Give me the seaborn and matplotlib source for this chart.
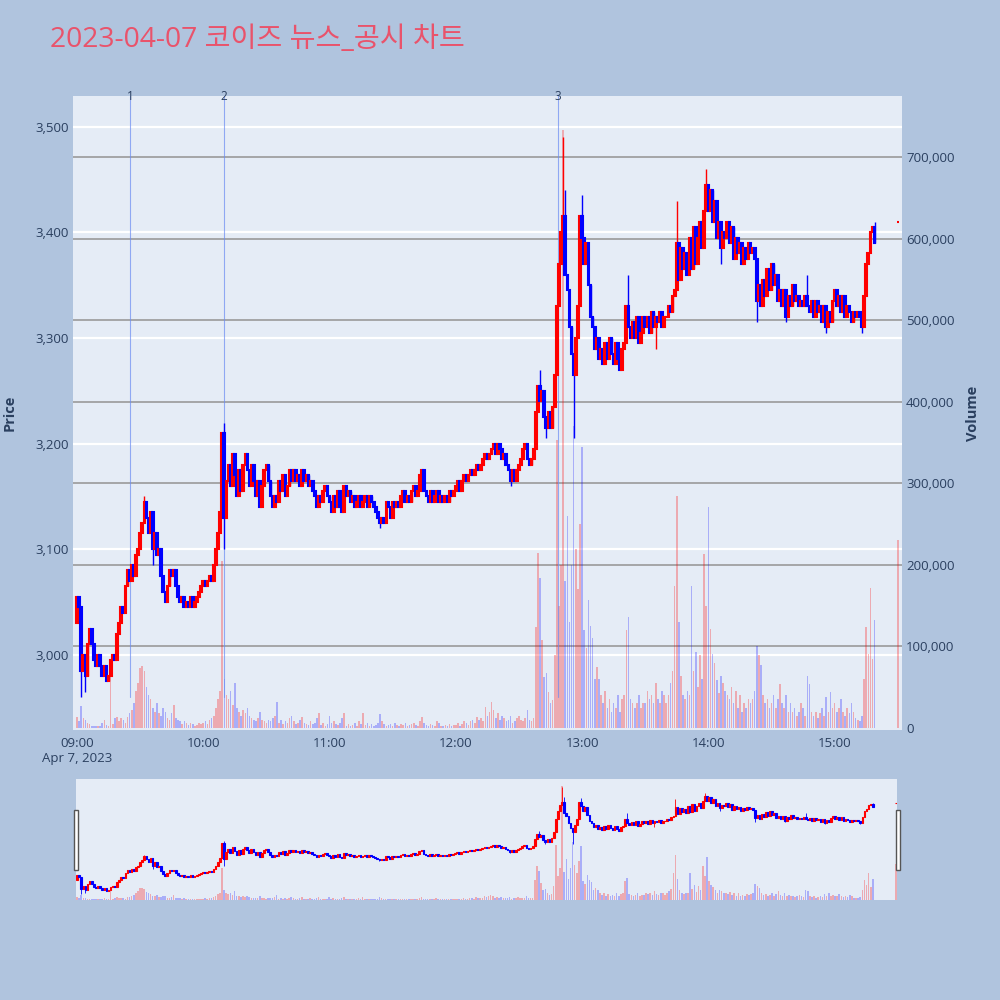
"""
Intraday 1-minute candle chart with volume and news markers (plotly-like look).
"""

import numpy as np
import pandas as pd
import matplotlib
matplotlib.use("Agg")
import matplotlib.pyplot as plt
import matplotlib.patches as mpatches
import matplotlib.transforms as mtransforms
from matplotlib.ticker import FuncFormatter
import seaborn as sns

TITLE = "2023-04-07 코이즈 뉴스_공시 차트"

FIRST_OPEN = 3030
# 1-minute closes, one row = ten minutes
CLOSE_09 = [3055, 3045, 2985, 3000, 2980, 3010, 3025, 3010, 2995, 2990,
            3000, 2990, 2980, 2990, 2975, 2980, 2995, 3000, 2995, 3020,
            3030, 3045, 3040, 3065, 3080, 3070, 3085, 3075, 3095, 3100,
            3115, 3125, 3145, 3130, 3115, 3135, 3100, 3115, 3095, 3100,
            3075, 3060, 3050, 3065, 3080, 3075, 3080, 3065, 3055, 3050,
            3055, 3045, 3050, 3045, 3055, 3045, 3050, 3055, 3060, 3065]
CLOSE_10 = [3070, 3065, 3070, 3075, 3070, 3085, 3100, 3115, 3135, 3210,
            3130, 3165, 3180, 3160, 3190, 3170, 3150, 3175, 3155, 3180,
            3190, 3175, 3160, 3180, 3165, 3150, 3165, 3140, 3160, 3175,
            3180, 3165, 3150, 3140, 3150, 3145, 3165, 3155, 3170, 3150,
            3160, 3175, 3165, 3175, 3165, 3170, 3160, 3175, 3165, 3170,
            3160, 3165, 3155, 3150, 3140, 3150, 3145, 3155, 3160, 3150]
CLOSE_11 = [3145, 3135, 3150, 3140, 3155, 3140, 3135, 3160, 3150, 3155,
            3145, 3150, 3140, 3145, 3150, 3140, 3145, 3150, 3140, 3150,
            3145, 3140, 3135, 3130, 3125, 3130, 3125, 3145, 3140, 3130,
            3145, 3140, 3145, 3140, 3150, 3155, 3145, 3150, 3145, 3155,
            3160, 3150, 3155, 3170, 3175, 3155, 3150, 3145, 3155, 3145,
            3150, 3155, 3145, 3150, 3145, 3150, 3145, 3155, 3150, 3155]
CLOSE_12 = [3160, 3165, 3155, 3165, 3170, 3165, 3170, 3175, 3170, 3175,
            3180, 3175, 3180, 3185, 3190, 3185, 3190, 3195, 3200, 3190,
            3200, 3195, 3185, 3190, 3180, 3175, 3165, 3175, 3165, 3175,
            3180, 3185, 3195, 3200, 3185, 3180, 3185, 3195, 3230, 3255,
            3240, 3250, 3225, 3215, 3230, 3215, 3235, 3265, 3330, 3370,
            3400, 3415, 3360, 3345, 3310, 3285, 3265, 3300, 3330, 3415]
CLOSE_13 = [3395, 3370, 3390, 3350, 3320, 3310, 3290, 3300, 3280, 3290,
            3275, 3295, 3280, 3300, 3285, 3275, 3295, 3280, 3270, 3290,
            3295, 3330, 3310, 3300, 3315, 3300, 3320, 3295, 3305, 3320,
            3310, 3320, 3305, 3325, 3310, 3320, 3315, 3325, 3310, 3320,
            3320, 3330, 3325, 3340, 3345, 3390, 3355, 3385, 3365, 3380,
            3360, 3395, 3365, 3405, 3370, 3395, 3410, 3385, 3420, 3445]
CLOSE_14 = [3420, 3440, 3410, 3430, 3395, 3410, 3385, 3400, 3395, 3410,
            3390, 3405, 3375, 3395, 3380, 3390, 3370, 3385, 3375, 3390,
            3380, 3385, 3375, 3335, 3350, 3330, 3355, 3340, 3365, 3345,
            3370, 3350, 3360, 3335, 3345, 3330, 3345, 3320, 3340, 3330,
            3350, 3335, 3340, 3330, 3335, 3330, 3340, 3330, 3325, 3335,
            3320, 3335, 3325, 3330, 3315, 3330, 3310, 3325, 3315, 3335]
CLOSE_15 = [3345, 3330, 3340, 3325, 3340, 3320, 3330, 3325, 3315, 3325,
            3320, 3325, 3320, 3310, 3340, 3370, 3380, 3400, 3405, 3390]

# wick extremes (minute index -> price) where the shadow sticks out of the body
HIGH_WICKS = {32: 3150, 70: 3220, 220: 3270, 231: 3490, 232: 3440, 240: 3435,
              262: 3360, 285: 3430, 299: 3460, 347: 3360, 379: 3410}
LOW_WICKS = {2: 2960, 4: 2965, 36: 3085, 70: 3100, 144: 3120, 206: 3160,
             223: 3205, 236: 3205, 275: 3290, 306: 3370, 323: 3315,
             337: 3315, 356: 3305, 373: 3305}

# volume in thousands of shares
VOL_09 = [14, 8, 27, 12, 10, 6, 5, 3, 2, 2,
          3, 2, 6, 10, 4, 3, 70, 5, 12, 14,
          8, 12, 10, 6, 14, 18, 22, 30, 45, 55,
          73, 76, 70, 50, 40, 35, 25, 20, 30, 18,
          15, 25, 20, 12, 10, 18, 28, 12, 10, 8,
          5, 8, 6, 4, 6, 5, 3, 4, 6, 5]
VOL_10 = [6, 8, 5, 10, 12, 15, 25, 35, 45, 205,
          60, 40, 35, 45, 28, 55, 25, 20, 15, 22,
          18, 25, 15, 12, 10, 8, 12, 20, 10, 8,
          6, 10, 8, 12, 15, 32, 6, 10, 5, 8,
          6, 12, 15, 8, 5, 6, 10, 14, 6, 5,
          4, 8, 5, 6, 12, 18, 4, 6, 3, 5]
VOL_11 = [15, 6, 8, 5, 4, 6, 12, 18, 3, 5,
          3, 4, 6, 3, 8, 5, 18, 4, 6, 3,
          5, 3, 4, 6, 17, 8, 5, 3, 4, 5,
          3, 6, 4, 3, 5, 4, 6, 3, 4, 5,
          6, 4, 3, 8, 14, 6, 4, 3, 5, 4,
          3, 9, 6, 3, 2, 4, 3, 5, 3, 4]
VOL_12 = [4, 6, 3, 5, 8, 6, 4, 8, 10, 6,
          14, 10, 12, 8, 26, 15, 20, 32, 22, 12,
          18, 10, 15, 12, 8, 10, 15, 6, 8, 12,
          15, 10, 8, 12, 22, 10, 8, 12, 124, 214,
          184, 108, 63, 67, 44, 30, 34, 90, 353, 150,
          200, 733, 180, 260, 130, 200, 370, 220, 170, 250]
VOL_13 = [345, 120, 98, 157, 125, 110, 60, 75, 60, 40,
          30, 45, 25, 35, 20, 30, 25, 40, 20, 35,
          40, 120, 136, 35, 30, 25, 30, 40, 25, 30,
          30, 45, 35, 40, 30, 55, 35, 30, 45, 40,
          30, 40, 55, 70, 174, 284, 130, 64, 40, 35,
          45, 40, 174, 70, 93, 50, 90, 60, 213, 150]
VOL_14 = [271, 121, 91, 80, 59, 43, 64, 55, 45, 40,
          35, 50, 30, 45, 25, 40, 20, 30, 25, 35,
          30, 35, 45, 100, 90, 77, 40, 30, 35, 25,
          30, 40, 25, 35, 54, 30, 25, 40, 20, 30,
          20, 25, 15, 20, 30, 25, 15, 64, 54, 20,
          15, 20, 12, 18, 25, 15, 38, 20, 44, 25]
VOL_15 = [30, 20, 25, 35, 20, 15, 25, 18, 30, 20,
          12, 10, 8, 15, 60, 124, 91, 172, 84, 132]

# closing auction (15:30)
AUCTION_MINUTE = 390
AUCTION_PRICE = 3410
AUCTION_VOL = 230

NEWS_LABELS = ["1", "2", "3"]
NEWS_MINUTES = [25.2, 69.8, 228.5]

TIME_TICKS = [0, 60, 120, 180, 240, 300, 360]
TIME_LABELS = ["09:00\nApr 7, 2023", "10:00", "11:00", "12:00", "13:00", "14:00", "15:00"]
PRICE_TICKS = [3000, 3100, 3200, 3300, 3400, 3500]
VOLUME_TICKS = [0, 100000, 200000, 300000, 400000, 500000, 600000, 700000]

UP = "#FF0000"
DOWN = "#0000FF"
FONT_COLOR = "#2a3f5f"
PAPER = "#B0C4DE"
PLOT_BG = "#E5ECF6"

PRICE_LIM = (2929, 3529)
VOLUME_LIM = (-2500, 775000)


def build_frame() -> pd.DataFrame:
    close = CLOSE_09 + CLOSE_10 + CLOSE_11 + CLOSE_12 + CLOSE_13 + CLOSE_14 + CLOSE_15
    vol = VOL_09 + VOL_10 + VOL_11 + VOL_12 + VOL_13 + VOL_14 + VOL_15
    minute = list(range(len(close)))
    opens = [FIRST_OPEN] + close[:-1]
    df = pd.DataFrame({"minute": minute, "open": opens, "close": close,
                       "volume": np.array(vol) * 1000})
    auction = pd.DataFrame({"minute": [AUCTION_MINUTE], "open": [AUCTION_PRICE],
                            "close": [AUCTION_PRICE], "volume": [AUCTION_VOL * 1000]})
    df = pd.concat([df, auction], ignore_index=True)
    df["high"] = df[["open", "close"]].max(axis=1)
    df["low"] = df[["open", "close"]].min(axis=1)
    for m, v in HIGH_WICKS.items():
        df.loc[df["minute"] == m, "high"] = v
    for m, v in LOW_WICKS.items():
        df.loc[df["minute"] == m, "low"] = v
    df["up"] = df["close"] >= df["open"]
    return df


def draw_series(ax_vol, ax_px, df, body_lw, wick_lw):
    vcol = [(1, 0, 0, 0.28) if u else (0, 0, 1, 0.26) for u in df["up"]]
    ax_vol.bar(df["minute"], df["volume"], width=0.75, color=vcol, linewidth=0, zorder=2)

    ccol = [UP if u else DOWN for u in df["up"]]
    ax_px.vlines(df["minute"], df["low"], df["high"], colors=ccol, lw=wick_lw, zorder=3)
    body_lo = df[["open", "close"]].min(axis=1)
    body_h = (df["close"] - df["open"]).abs()
    ax_px.bar(df["minute"], body_h, bottom=body_lo, width=0.8, color=ccol,
              edgecolor=ccol, linewidth=body_lw, zorder=4)


sns.set_theme(style="white")
plt.rcParams["font.family"] = ["Open Sans", "Noto Sans CJK KR", "DejaVu Sans"]

df = build_frame()

fig = plt.figure(figsize=(10, 10), dpi=100, facecolor=PAPER)
fig.text(0.05, 0.960, TITLE, fontsize=20.3, color="#E9536B", ha="left", va="center")

# ── main panel ────────────────────────────────────────────────────────────────
ax_vol = fig.add_axes([0.073, 0.270, 0.829, 0.634])
ax_px = ax_vol.twinx()
ax_vol.set_facecolor(PLOT_BG)
ax_px.patch.set_alpha(0)

ax_vol.set_xlim(-1.9, 392)
ax_vol.set_ylim(*VOLUME_LIM)
ax_px.set_ylim(*PRICE_LIM)

# price gridlines (white) drawn under the data, on the bottom axes
blend = mtransforms.blended_transform_factory(ax_vol.transAxes, ax_px.transData)
for p in PRICE_TICKS:
    ax_vol.plot([0, 1], [p, p], color="white", lw=1.6, transform=blend, zorder=0.5)
for v in VOLUME_TICKS[1:]:
    ax_vol.axhline(v, color="#9a9a9a", lw=1.2, zorder=0.6)

draw_series(ax_vol, ax_px, df, body_lw=1.5, wick_lw=1.0)

# news markers
frac = (df["low"].min() - PRICE_LIM[0]) / (PRICE_LIM[1] - PRICE_LIM[0])
for lab, m in zip(NEWS_LABELS, NEWS_MINUTES):
    ax_px.axvline(m, ymin=frac, ymax=1, color="#6b8cf2", lw=0.8, alpha=0.7, zorder=1)
    ax_px.text(m, 1.0, lab, transform=ax_px.get_xaxis_transform(), ha="center",
               va="center", fontsize=8.5, color=FONT_COLOR)

# left = price, right = volume
ax_px.yaxis.tick_left()
ax_vol.yaxis.tick_right()
ax_px.set_yticks(PRICE_TICKS)
ax_px.yaxis.set_major_formatter(FuncFormatter(lambda v, _: f"{int(v):,}"))
ax_vol.set_yticks(VOLUME_TICKS)
ax_vol.yaxis.set_major_formatter(FuncFormatter(lambda v, _: f"{int(v):,}"))
ax_vol.set_xticks(TIME_TICKS)
ax_vol.set_xticklabels(TIME_LABELS)
for a in (ax_vol, ax_px):
    a.tick_params(length=0, labelsize=9.5, colors=FONT_COLOR)
    for s in a.spines.values():
        s.set_visible(False)
    a.grid(False)
ax_px.tick_params(axis="y", pad=3)
ax_vol.tick_params(axis="y", pad=3)
ax_vol.tick_params(axis="x", pad=5)

fig.text(0.010, 0.587, "Price", rotation=90, ha="center", va="center",
         fontsize=10.5, fontweight="bold", color=FONT_COLOR)
fig.text(0.973, 0.587, "Volume", rotation=90, ha="center", va="center",
         fontsize=10.5, fontweight="bold", color=FONT_COLOR)

# ── range slider ──────────────────────────────────────────────────────────────
sl_vol = fig.add_axes([0.076, 0.100, 0.821, 0.121])
sl_px = sl_vol.twinx()
sl_vol.set_facecolor(PLOT_BG)
sl_px.patch.set_alpha(0)
sl_vol.set_xlim(-0.5, 390.5)
sl_vol.set_ylim(*VOLUME_LIM)
sl_px.set_ylim(*PRICE_LIM)
draw_series(sl_vol, sl_px, df, body_lw=0.8, wick_lw=0.6)
for a in (sl_vol, sl_px):
    a.set_xticks([])
    a.set_yticks([])
    for s in a.spines.values():
        s.set_visible(False)

for hx in (0.0735, 0.8955):
    fig.add_artist(mpatches.Rectangle((hx, 0.130), 0.0045, 0.060, transform=fig.transFigure,
                                      facecolor="white", edgecolor="#555555", lw=1))

fig.savefig("out.png", dpi=100, facecolor=PAPER)
plt.close(fig)
